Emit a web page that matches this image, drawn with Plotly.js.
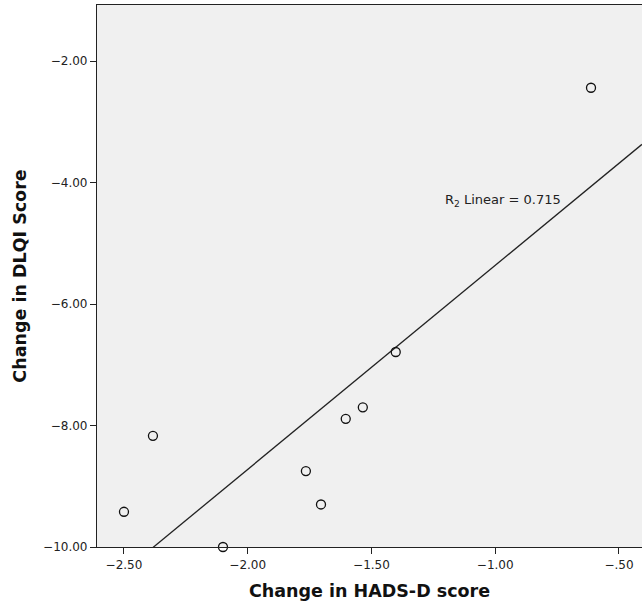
<!DOCTYPE html>
<html><head><meta charset="utf-8">
<script src="https://cdn.plot.ly/plotly-3.0.1.min.js"></script>
<style>body{margin:0;background:#fff}#chart{width:642px;height:607px}</style>
</head><body><div id="chart"></div>
<script>
const hadsChange = [-2.50, -2.383, -2.10, -1.765, -1.704, -1.604, -1.535, -1.402, -0.613];
const dlqiChange = [-9.42, -8.17, -10.00, -8.75, -9.30, -7.89, -7.70, -6.79, -2.44];
const xTickVals = [-2.5, -2.0, -1.5, -1.0, -0.5];
const xTickText = ['\u22122.50', '\u22122.00', '\u22121.50', '\u22121.00', '\u2212.50'];
const yTickVals = [-2, -4, -6, -8, -10];
const yTickText = ['\u22122.00', '\u22124.00', '\u22126.00', '\u22128.00', '\u221210.00'];
const xRange = [-2.609, -0.407];
const yRange = [-10.0, -1.078];

// least squares fit
const n = hadsChange.length;
const mx = hadsChange.reduce((a,b)=>a+b,0)/n;
const my = dlqiChange.reduce((a,b)=>a+b,0)/n;
let sxy=0, sxx=0;
for (let i=0;i<n;i++){ sxy += (hadsChange[i]-mx)*(dlqiChange[i]-my); sxx += (hadsChange[i]-mx)**2; }
const slope = sxy/sxx, icpt = my - slope*mx;
const fitX = [xRange[0], xRange[1]];
const fitY = fitX.map(x => icpt + slope*x);

const font = "'DejaVu Sans', sans-serif";
Plotly.newPlot('chart', [
  {x: fitX, y: fitY, mode: 'lines', line: {color: '#222', width: 1.3}, hoverinfo: 'skip'},
  {x: hadsChange, y: dlqiChange, mode: 'markers', cliponaxis: false,
   marker: {symbol: 'circle-open', size: 9, color: '#111', line: {width: 1.3, color: '#111'}}}
], {
  width: 642, height: 607, showlegend: false,
  paper_bgcolor: '#ffffff', plot_bgcolor: '#f0f0f0',
  margin: {l: 97, r: 0, t: 5, b: 60},
  font: {family: font, color: '#222'},
  xaxis: {range: xRange, tickvals: xTickVals, ticktext: xTickText, showgrid: false, zeroline: false,
    ticks: 'outside', ticklen: 6, tickcolor: '#222', showline: true, linecolor: '#222', linewidth: 1.2, mirror: true,
    tickfont: {size: 12, family: font, color: '#222'},
    title: {text: 'Change in HADS-D score', font: {size: 17.5, family: font, color: '#111', weight: 'bold'}, standoff: 14}},
  yaxis: {range: yRange, tickvals: yTickVals, ticktext: yTickText, showgrid: false, zeroline: false,
    ticks: 'outside', ticklen: 6, tickcolor: '#222', showline: true, linecolor: '#222', linewidth: 1.2, mirror: true,
    tickfont: {size: 12, family: font, color: '#222'},
    title: {text: 'Change in DLQI Score', font: {size: 17.5, family: font, color: '#111', weight: 'bold'}, standoff: 11}},
  annotations: [{x: -0.969, y: -4.29, xref: 'x', yref: 'y', text: 'R<sub>2</sub> Linear = 0.715', showarrow: false,
    font: {size: 13, family: font, color: '#222'}}]
}, {displayModeBar: false});
</script></body></html>
